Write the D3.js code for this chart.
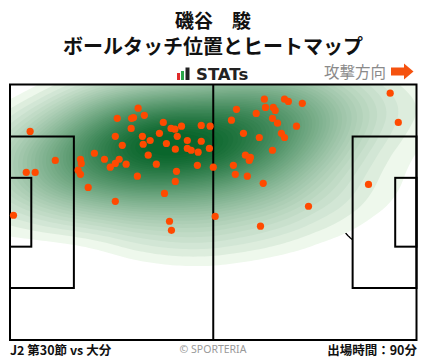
<!DOCTYPE html>
<html><head><meta charset="utf-8">
<script src="https://cdn.jsdelivr.net/npm/d3@7"></script>
<style>
html,body{margin:0;padding:0;background:#fff;}
svg{display:block;}
</style></head>
<body>
<script>
// ---- data (pitch metres: x 0..105 toward attack direction, y 0..68 top to bottom)
const playerName = "磯谷　駿";
const chartTitle = "ボールタッチ位置とヒートマップ";
const matchLabel = "J2 第30節 vs 大分";
const minutesLabel = "出場時間：90分";
const directionLabel = "攻撃方向";
const touchX = [33.1,34.7,27.7,31.4,31.9,39.6,44.3,49.4,51.7,31.3,41.6,42.6,5.2,38.6,34.2,43.2,27.2,36.2,45.8,49.4,
  34.4,40.4,29.0,45.8,46.8,42.7,51.5,48.6,21.8,35.7,24.4,18.2,28.2,11.7,18.4,27.2,30.0,37.8,25.9,48.4,
  52.5,17.6,43.0,4.2,6.5,18.2,32.9,42.7,20.2,39.9,27.2,0.9,41.2,41.7,
  98.2,65.7,70.9,71.9,75.5,58.5,66.0,68.0,68.5,63.6,67.8,57.2,69.1,100.3,74.0,60.3,70.1,70.9,64.4,67.8,
  60.8,62.1,61.8,57.7,58.2,61.3,65.4,92.6,77.1,53.0,64.7];
const touchY = [6.3,8.2,9.0,9.0,8.8,10.1,11.1,10.9,11.1,11.7,11.7,11.9,12.5,13.0,13.8,13.8,13.8,14.9,14.9,15.1,
  15.9,15.7,16.2,17.0,17.5,17.2,17.0,18.0,18.3,18.8,19.9,19.9,19.9,20.2,21.0,21.0,21.2,21.2,22.0,21.5,
  22.0,22.8,23.1,23.4,23.4,23.9,24.4,25.8,27.4,29.0,31.1,34.8,36.4,38.8,
  2.3,3.9,3.9,4.5,5.0,6.6,6.1,6.1,6.9,7.7,9.0,9.5,10.3,10.1,11.1,13.0,13.0,14.1,14.1,17.5,
  18.8,19.4,20.2,21.5,23.9,24.4,26.3,26.6,32.4,35.1,37.7];
const pitchLength = 105, pitchWidth = 68;

const W = 428, H = 359;
const svg = d3.select("body").append("svg").attr("width", W).attr("height", H);
const jp = "'Noto Sans CJK JP','Noto Sans',sans-serif";

const xS = d3.scaleLinear().domain([0, pitchLength]).range([10, 416.5]);
const yS = d3.scaleLinear().domain([0, pitchWidth]).range([84.5, 340]);

// ---- header
svg.append("text").attr("x", 213).attr("y", 28).attr("text-anchor", "middle")
  .attr("font-family", jp).attr("font-weight", 700).attr("font-size", 19).attr("fill", "#111").text(playerName);
svg.append("text").attr("x", 213).attr("y", 54).attr("text-anchor", "middle")
  .attr("font-family", jp).attr("font-weight", 700).attr("font-size", 20).attr("fill", "#111").text(chartTitle);

// logo
const logo = svg.append("g");
logo.append("rect").attr("x", 177).attr("y", 73).attr("width", 3).attr("height", 7).attr("fill", "#e02a2a");
logo.append("rect").attr("x", 181).attr("y", 71).attr("width", 3).attr("height", 9).attr("fill", "#2aa648");
logo.append("rect").attr("x", 185.5).attr("y", 67.5).attr("width", 4).attr("height", 12.5).attr("fill", "#222");
logo.append("text").attr("x", 196).attr("y", 80).attr("font-family", "'DejaVu Sans',sans-serif")
  .attr("font-weight", 700).attr("font-size", 16.5).attr("fill", "#222").text("STATs");

// direction
svg.append("text").attr("x", 386).attr("y", 77.5).attr("text-anchor", "end")
  .attr("font-family", jp).attr("font-size", 15.5).attr("fill", "#8a8a8a").text(directionLabel);
svg.append("path").attr("d", "M391,67.5 L404,67.5 L404,63.5 L413.5,71.5 L404,79.5 L404,75.5 L391,75.5 Z")
  .attr("fill", "#f5520f");

// ---- pitch
const P = svg.append("g");
P.append("rect").attr("x", xS(0)).attr("y", yS(0)).attr("width", xS(105) - xS(0)).attr("height", yS(68) - yS(0)).attr("fill", "#fff");

const lineCol = "#000";
// under-heatmap markings: penalty arcs (outside the box) & centre circle
const under = P.append("g").attr("fill", "none").attr("stroke", lineCol).attr("stroke-width", 1.3);
const R = 9.15;
const arcLine = d3.line().x(d => xS(d[0])).y(d => yS(d[1]));
const arcPts = (cx, a0, a1) => d3.range(0, 41).map(k => {
  const a = a0 + (a1 - a0) * k / 40;
  return [cx + R * Math.cos(a), 34 + R * Math.sin(a)];
});
const ang = Math.acos(5.5 / R);
under.append("path").attr("d", arcLine(arcPts(52.5, 0, 2 * Math.PI)));
under.append("path").attr("d", arcLine(arcPts(11, -ang, ang)));
under.append("path").attr("d", arcLine(arcPts(94, Math.PI - ang, Math.PI + ang)));

// heatmap
svg.append("clipPath").attr("id", "pc").append("rect")
  .attr("x", xS(0)).attr("y", yS(0)).attr("width", xS(105) - xS(0)).attr("height", yS(68) - yS(0));
const pts = touchX.map((x, i) => [x, touchY[i]]);
const sx = 1.8;
const dens = d3.contourDensity().x(d => xS(d[0]) / sx).y(d => yS(d[1]))
  .size([Math.ceil(W / sx), H]).cellSize(2).bandwidth(27);
const cf = dens.contours(pts);
const N = 45, lowFrac = 0.035;
const levels = d3.range(N).map(i => cf.max * (lowFrac + (0.96 - lowFrac) * i / (N - 1)));
const col = t => d3.interpolateRgb("#eef8ec", "#0a662c")(Math.pow(t, 0.68));
const hm = P.append("g").attr("clip-path", "url(#pc)").append("g").attr("transform", `scale(${sx},1)`);
levels.forEach((lv, i) => {
  hm.append("path").attr("d", d3.geoPath()(cf(lv))).attr("fill", col(i / (N - 1)));
});

// over-heatmap markings
const over = P.append("g").attr("fill", "none").attr("stroke", lineCol).attr("stroke-width", 2);
over.append("rect").attr("x", xS(0)).attr("y", yS(0)).attr("width", xS(105) - xS(0)).attr("height", yS(68) - yS(0));
over.append("line").attr("x1", xS(52.5)).attr("x2", xS(52.5)).attr("y1", yS(0)).attr("y2", yS(68));
const boxW = 40.32, gaW = 18.32;
over.append("rect").attr("x", xS(0)).attr("y", yS(34 - boxW / 2)).attr("width", xS(16.5) - xS(0)).attr("height", yS(34 + boxW / 2) - yS(34 - boxW / 2));
over.append("rect").attr("x", xS(0)).attr("y", yS(34 - gaW / 2)).attr("width", xS(5.5) - xS(0)).attr("height", yS(34 + gaW / 2) - yS(34 - gaW / 2));
over.append("rect").attr("x", xS(105 - 16.5)).attr("y", yS(34 - boxW / 2)).attr("width", xS(16.5) - xS(0)).attr("height", yS(34 + boxW / 2) - yS(34 - boxW / 2));
over.append("rect").attr("x", xS(105 - 5.5)).attr("y", yS(34 - gaW / 2)).attr("width", xS(5.5) - xS(0)).attr("height", yS(34 + gaW / 2) - yS(34 - gaW / 2));

// touches
P.append("g").selectAll("circle").data(pts).join("circle")
  .attr("cx", d => xS(d[0])).attr("cy", d => yS(d[1])).attr("r", 3.6).attr("fill", "#ff4a00");

// ---- footer
svg.append("text").attr("x", 10).attr("y", 355).attr("font-family", jp).attr("font-weight", 700)
  .attr("font-size", 12.5).attr("fill", "#111").text(matchLabel);
svg.append("text").attr("x", 213).attr("y", 352.5).attr("text-anchor", "middle").attr("font-family", "'Noto Sans',sans-serif")
  .attr("font-size", 10.5).attr("fill", "#999").text("© SPORTERIA");
svg.append("text").attr("x", 417).attr("y", 355).attr("text-anchor", "end").attr("font-family", jp).attr("font-weight", 700)
  .attr("font-size", 12.5).attr("fill", "#111").text(minutesLabel);
</script>
</body></html>
